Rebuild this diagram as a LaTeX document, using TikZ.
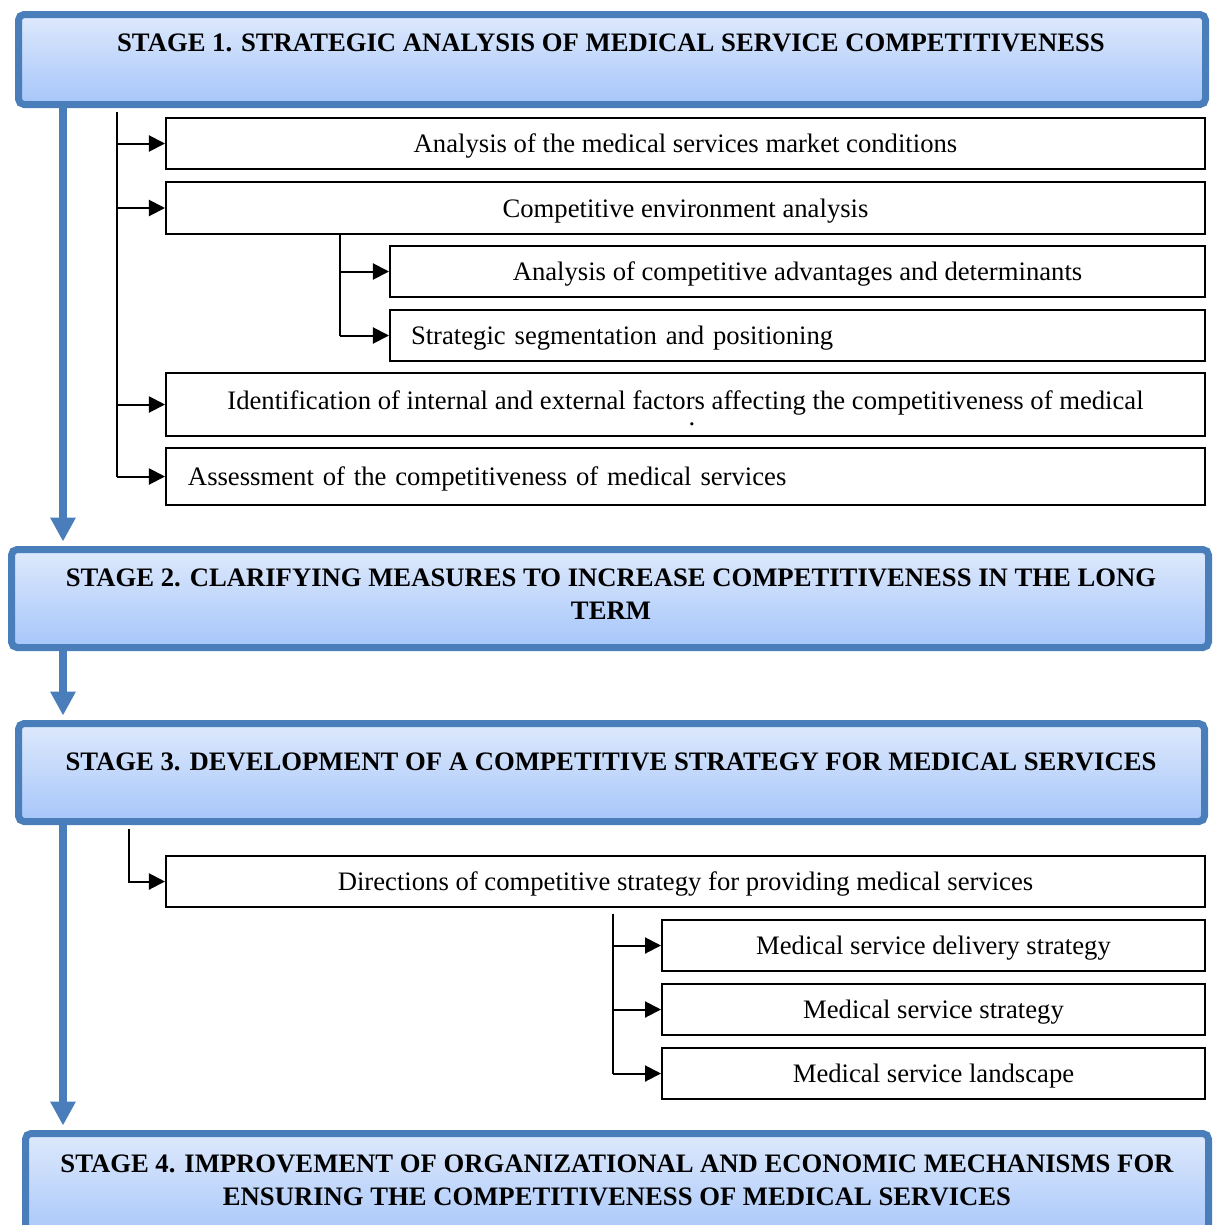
\documentclass[tikz,border=0pt]{standalone}
\usepackage{fontspec}
\setmainfont{Liberation Serif}
\usetikzlibrary{arrows.meta,fit,shadows}
\definecolor{stageblue}{RGB}{74,126,187}
\definecolor{stagetop}{RGB}{222,233,252}
\definecolor{stagebottom}{RGB}{166,198,250}
\tikzset{
    stagebox/.style={draw=stageblue,line width=3.15pt,rounded corners=2.5pt,top color=stagetop,bottom color=stagebottom,inner sep=0pt,
        drop shadow={shadow xshift=0.9pt,shadow yshift=-1.3pt,opacity=0.3}},
    stagetext/.style={font=\bfseries\fontsize{12}{14.85}\selectfont,align=center,inner sep=0pt},
    itembox/.style={draw,line width=0.9pt,inner sep=0pt,minimum width=467.55pt,minimum height=22.95pt,
        font=\fontsize{12}{14.85}\selectfont,text height=9pt,text depth=0.7pt},
    spine/.style={stageblue,line width=3.6pt,-{Triangle[width=10.8pt,length=10.8pt]},shorten >=2pt},
    branch/.style={line width=0.9pt},
    tobox/.style={line width=0.9pt,-{Triangle[width=7.2pt,length=7.2pt]}}
}
\begin{document}
\begin{tikzpicture}[x=0.45pt,y=-0.45pt]
    \useasboundingbox (0,0) rectangle (1214,1225);
    \node[stagebox,fit={(18.5,14.5) (1205.5,104.5)}] (st1) {};
    \node[stagetext] (st1t) at (611,43) {STAGE 1. STRATEGIC ANALYSIS OF MEDICAL SERVICE COMPETITIVENESS};
    \node[stagebox,fit={(11.5,549.5) (1208.5,647.5)}] (st2) {};
    \node[stagetext] (st2t) at (611,594.5) {STAGE 2. CLARIFYING MEASURES TO INCREASE COMPETITIVENESS IN THE LONG\\TERM};
    \node[stagebox,fit={(18.5,723.5) (1204.5,821.5)}] (st3) {};
    \node[stagetext] (st3t) at (611,762) {STAGE 3. DEVELOPMENT OF A COMPETITIVE STRATEGY FOR MEDICAL SERVICES};
    \node[stagebox,fit={(25.5,1133.5) (1208.5,1240)}] (st4) {};
    \node[stagetext] (st4t) at (617,1180.5) {STAGE 4. IMPROVEMENT OF ORGANIZATIONAL AND ECONOMIC MECHANISMS FOR\\ENSURING THE COMPETITIVENESS OF MEDICAL SERVICES};

    \node[itembox] (mkt) at (685.5,143.5) {Analysis of the medical services market conditions};
    \node[itembox,minimum height=23.4pt] (comp) at (685.5,208) {Competitive environment analysis};
    \node[itembox,minimum width=366.75pt] (adv) at (797.5,271.5) {Analysis of competitive advantages and determinants};
    \node[itembox,minimum width=366.75pt,text width=347.85pt,align=left] (seg) at (797.5,335.5) {Strategic segmentation and positioning};
    \node[itembox,minimum height=28.35pt,text height=8.2pt,text depth=3.5pt] (fac) at (685.5,404.5) {Identification of internal and external factors affecting the competitiveness of medical};
    \node[font=\fontsize{12}{14.85}\selectfont,inner sep=0pt,anchor=base] (facdot) at (692,425) {.};
    \node[itembox,minimum height=25.65pt,text width=447.75pt,align=left] (asm) at (685.5,476.5) {Assessment of the competitiveness of medical services};
    \node[itembox] (dir) at (685.5,881.5) {Directions of competitive strategy for providing medical services};
    \node[itembox,minimum width=244.35pt] (dlv) at (933.5,945.5) {Medical service delivery strategy};
    \node[itembox,minimum width=244.35pt] (svc) at (933.5,1009.5) {Medical service strategy};
    \node[itembox,minimum width=244.35pt] (lnd) at (933.5,1073.5) {Medical service landscape};

    \coordinate (axis) at (63,0);
    \draw[spine] (st1.south -| axis) -- (st2.north -| axis);
    \draw[spine] (st2.south -| axis) -- (st3.north -| axis);
    \draw[spine] (st3.south -| axis) -- (st4.north -| axis);

    \coordinate (t1) at (117,0);
    \draw[branch] ([yshift=-1.6pt]st1.south -| t1) -- (t1 |- asm.west);
    \foreach \nm in {mkt,comp,fac,asm} \draw[tobox] (t1 |- \nm.west) -- (\nm.west);
    \coordinate (t2) at (340,0);
    \draw[branch] (comp.south -| t2) -- (t2 |- seg.west);
    \foreach \nm in {adv,seg} \draw[tobox] (t2 |- \nm.west) -- (\nm.west);
    \coordinate (t3) at (129,0);
    \draw[tobox] ([yshift=-1.6pt]st3.south -| t3) |- (dir.west);
    \coordinate (t4) at (613,0);
    \draw[branch] ([yshift=-2.5pt]dir.south -| t4) -- (t4 |- lnd.west);
    \foreach \nm in {dlv,svc,lnd} \draw[tobox] (t4 |- \nm.west) -- (\nm.west);
\end{tikzpicture}
\end{document}
